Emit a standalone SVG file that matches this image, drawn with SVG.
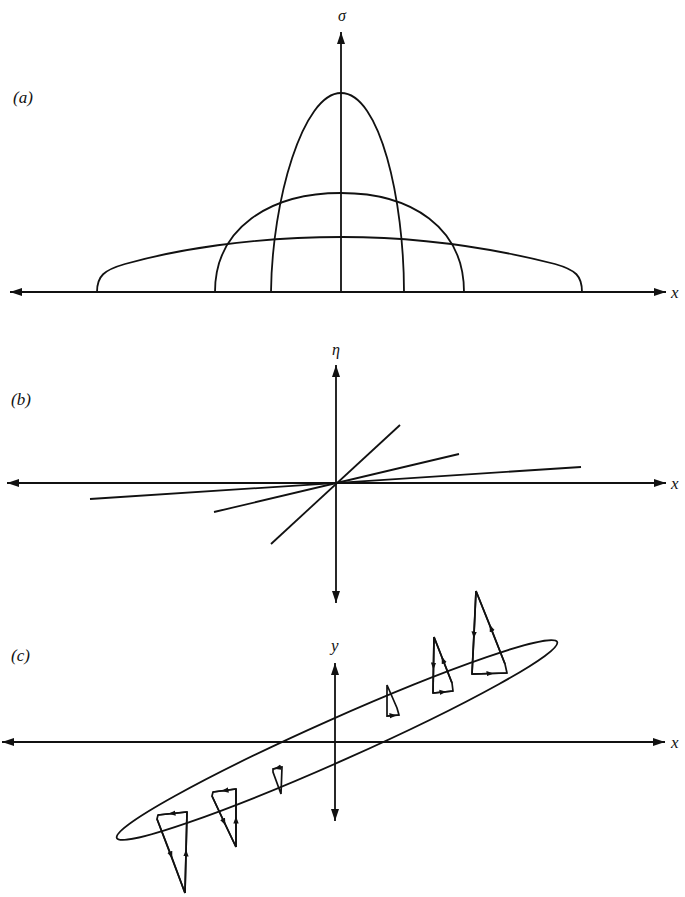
<svg xmlns="http://www.w3.org/2000/svg" width="685" height="897" viewBox="0 0 685 897">
<defs>
<style>
.ax{fill:none;stroke:#111;stroke-width:1.8;marker-end:url(#arr)}
.ax2{fill:none;stroke:#111;stroke-width:1.8;marker-end:url(#arr);marker-start:url(#arr)}
.cv{fill:none;stroke:#111;stroke-width:1.8}
.tr{fill:none;stroke:#111;stroke-width:1.7;stroke-linejoin:miter}
.ar{fill:none;stroke:#111;stroke-width:1.7;marker-mid:url(#ah)}
.lb{font-family:"Liberation Serif","DejaVu Serif",serif;font-style:italic;font-size:17px;fill:#111}
.gk{font-family:"Liberation Serif","DejaVu Serif",serif;font-style:italic;font-size:16px;fill:#111}
</style>
<marker id="arr" viewBox="0 0 12 8" refX="12" refY="4" markerWidth="12" markerHeight="8" markerUnits="userSpaceOnUse" orient="auto-start-reverse">
<path d="M0,0 L12,4 L0,8 z" fill="#111"/>
</marker>
<marker id="ah" viewBox="0 0 7 6" refX="3.5" refY="3" markerWidth="7" markerHeight="6" markerUnits="userSpaceOnUse" orient="auto">
<path d="M0,0.3 L7,3 L0,5.7 z" fill="#111"/>
</marker>
</defs>
<rect width="685" height="897" fill="#fff"/>

<g id="panel-a">
<text class="lb" x="13" y="103">(a)</text>
<text class="gk" x="338" y="21">σ</text>
<text class="lb" x="671" y="298">x</text>
<g id="a-connectors">
<line class="ax2" x1="10" y1="292" x2="666" y2="292"/>
<line class="ax" x1="341" y1="292" x2="341" y2="32"/>
</g>
<path id="a-tall" class="cv" d="M271,292 C272,200 303,93 341,93 C380,93 404,200 404,292"/>
<path id="a-mid" class="cv" d="M215,292 C215,228 270,193 341,193 C412,193 464,228 464,292"/>
<path id="a-wide" class="cv" d="M97,292 C97,276 104,270 125,264 C175,250 250,237 342,237 C430,237 500,250 555,264 C576,270 582,276 582,292"/>
</g>

<g id="panel-b">
<text class="lb" x="11" y="405">(b)</text>
<text class="gk" x="332" y="355">η</text>
<text class="lb" x="671" y="489">x</text>
<g id="b-connectors">
<line class="ax2" x1="7" y1="483" x2="666" y2="483"/>
<line class="ax2" x1="336" y1="365" x2="336" y2="603"/>
</g>
<line class="cv" x1="271" y1="544" x2="400" y2="425"/>
<line class="cv" x1="214" y1="512" x2="459" y2="454"/>
<line class="cv" x1="90" y1="499" x2="581" y2="467"/>
</g>

<g id="panel-c">
<text class="lb" x="11" y="661">(c)</text>
<text class="lb" x="331" y="651">y</text>
<text class="lb" x="671" y="748">x</text>
<g id="c-connectors">
<line class="ax2" x1="2" y1="742" x2="665" y2="742"/>
<line class="ax2" x1="335" y1="663" x2="335" y2="821"/>
</g>
<ellipse id="c-ellipse" class="cv" cx="337" cy="740" rx="241" ry="21" transform="rotate(-24 337 740)"/>

<g id="tri1">
<path class="tr" d="M476,591 L472,674 L507,673 L505,664 Z"/>
<path class="ar" d="M476,591 L474,635 L472,674"/>
<path class="ar" d="M472,674 L490,673.5 L507,673"/>
<path class="ar" d="M505,664 L491,628 L476,591"/>
</g>
<g id="tri2">
<path class="tr" d="M434,637 L433,693 L453,691 L452,683 Z"/>
<path class="ar" d="M434,637 L433.5,666 L433,693"/>
<path class="ar" d="M433,693 L443,692 L453,691"/>
<path class="ar" d="M452,683 L443,660 L434,637"/>
</g>
<g id="tri3">
<path class="tr" d="M387,685 L387,716 L399,715 L397,708 Z"/>
<path class="ar" d="M387,716 L393,715.5 L399,715"/>
</g>
<g id="tri4">
<path class="tr" d="M185,893 L187,812 L158,815 L157,819 Z"/>
<path class="ar" d="M185,893 L186,853 L187,812"/>
<path class="ar" d="M187,812 L172,813.5 L158,815"/>
<path class="ar" d="M157,819 L171,855 L185,893"/>
</g>
<g id="tri5">
<path class="tr" d="M236,847 L236,789 L213,792 L212,796 Z"/>
<path class="ar" d="M236,847 L236,820 L236,789"/>
<path class="ar" d="M236,789 L225,790.5 L213,792"/>
<path class="ar" d="M212,796 L224,822 L236,847"/>
</g>
<g id="tri6">
<path class="tr" d="M281,794 L282,767 L273,769 L273,772 Z"/>
<path class="ar" d="M282,767 L277.5,768 L273,769"/>
</g>
</g>
</svg>
